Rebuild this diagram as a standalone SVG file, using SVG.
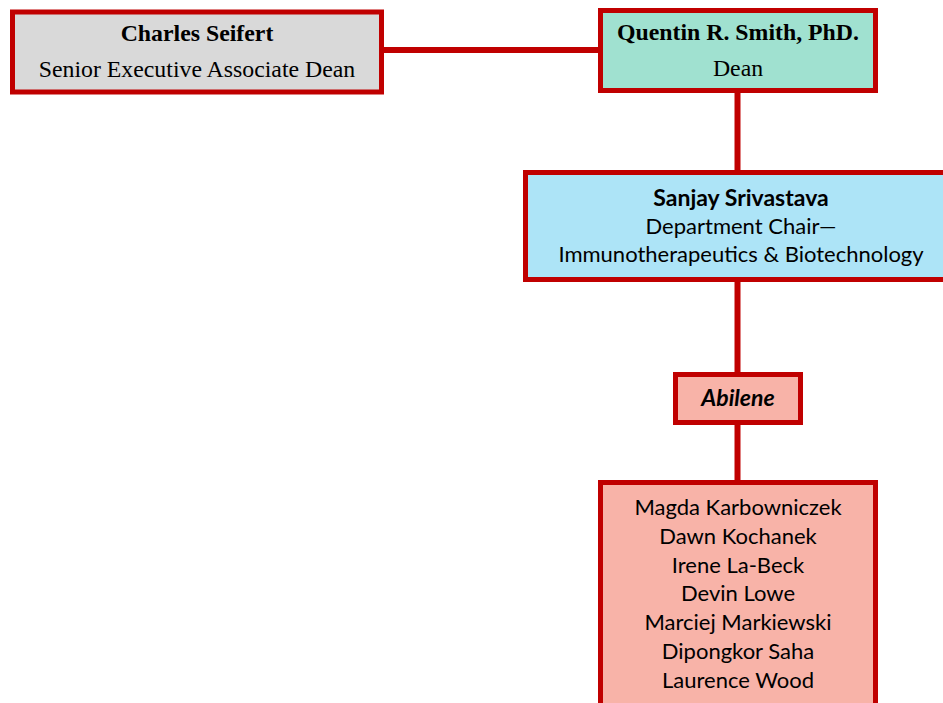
<svg xmlns="http://www.w3.org/2000/svg" width="943" height="703" viewBox="0 0 943 703">
<style>
.box{stroke:#c00000;stroke-width:5}
.serif{font-family:"Liberation Serif","Times New Roman",serif;font-size:23.8px;fill:#000;text-anchor:middle}
.sans{font-family:"Lato","Open Sans",sans-serif;font-size:22px;fill:#000;text-anchor:middle}
.b{font-weight:bold}
.sb{font-size:23px}
.conn{stroke:#c00000;stroke-width:6;fill:none}
</style>
<rect width="943" height="703" fill="#ffffff"/>
<g id="connectors">
<line class="conn" x1="383" y1="50" x2="600" y2="50"/>
<line class="conn" x1="737.5" y1="92" x2="737.5" y2="172"/>
<line class="conn" x1="737.5" y1="281" x2="737.5" y2="374"/>
<line class="conn" x1="737.5" y1="424" x2="737.5" y2="482"/>
</g>
<g id="seifert">
<rect class="box" x="12.5" y="12" width="369" height="80" fill="#d9d9d9"/>
<text class="serif b" x="197" y="41">Charles Seifert</text>
<text class="serif" x="197" y="77">Senior Executive Associate Dean</text>
</g>
<g id="smith">
<rect class="box" x="600.5" y="10.5" width="275" height="80" fill="#a0e1d0"/>
<text class="serif b" x="738" y="40">Quentin R. Smith, PhD.</text>
<text class="serif" x="738" y="76">Dean</text>
</g>
<g id="srivastava">
<rect class="box" x="525.5" y="172.5" width="430" height="107" fill="#ade4f7"/>
<text class="sans b sb" x="741" y="206">Sanjay Srivastava</text>
<text class="sans" x="741" y="234">Department Chair—</text>
<text class="sans" x="741" y="262">Immunotherapeutics &amp; Biotechnology</text>
</g>
<g id="abilene">
<rect class="box" x="675.5" y="374.5" width="125" height="48" fill="#f8b3a8"/>
<text class="sans b sb" x="738" y="406" font-style="italic">Abilene</text>
</g>
<g id="members">
<rect class="box" x="600.5" y="482.5" width="275" height="240" fill="#f8b3a8"/>
<text class="sans" x="738" y="515">Magda Karbowniczek</text>
<text class="sans" x="738" y="544">Dawn Kochanek</text>
<text class="sans" x="738" y="573">Irene La-Beck</text>
<text class="sans" x="738" y="601">Devin Lowe</text>
<text class="sans" x="738" y="630">Marciej Markiewski</text>
<text class="sans" x="738" y="659">Dipongkor Saha</text>
<text class="sans" x="738" y="688">Laurence Wood</text>
</g>
</svg>
